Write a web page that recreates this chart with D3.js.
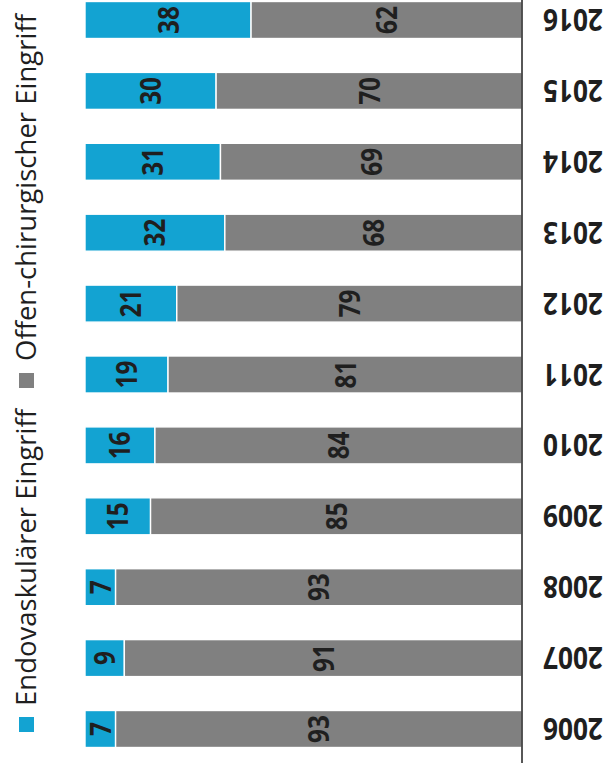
<!DOCTYPE html>
<html>
<head>
<meta charset="utf-8">
<script src="https://cdn.jsdelivr.net/npm/d3@7"></script>
<style>
  html, body { margin: 0; padding: 0; background: #fff; }
  svg { display: block; }
  text { font-family: "Open Sans", "Noto Sans", sans-serif; fill: #1f1f1f; }
</style>
</head>
<body>
<svg id="chart" width="609" height="765"></svg>
<script>
// Share of procedures per year (percent)
const years = ["2006","2007","2008","2009","2010","2011","2012","2013","2014","2015","2016"];
const endovascular = [7, 9, 7, 15, 16, 19, 21, 32, 31, 30, 38];
const openSurgery  = [93, 91, 93, 85, 84, 81, 79, 68, 69, 70, 62];
const seriesNames = ["Endovaskulärer Eingriff", "Offen-chirurgischer Eingriff"];
const seriesColors = ["#13a3d2", "#808080"];

const svg = d3.select("#chart");

// value axis runs left→right, year bands top→bottom (newest first)
const x = d3.scaleLinear().domain([0, 100]).range([85, 522]);
const y = d3.scaleBand()
  .domain(years.slice().reverse())
  .range([-15.45, 764.45])
  .paddingInner(0.478)
  .paddingOuter(0.239);

const rows = years.map((yr, i) => ({ year: yr, values: [endovascular[i], openSurgery[i]] }));
const stacked = d3.stack().keys([0, 1]).value((d, k) => d.values[k])(rows);

const layers = svg.append("g").selectAll("g")
  .data(stacked)
  .join("g")
  .attr("fill", (d, i) => seriesColors[i]);

layers.selectAll("rect")
  .data(d => d)
  .join("rect")
  .attr("x", d => x(d[0]))
  .attr("width", d => x(d[1]) - x(d[0]))
  .attr("y", d => y(d.data.year))
  .attr("height", y.bandwidth())
  .attr("stroke", "#fff")
  .attr("stroke-width", 1.4);

// segment values, rotated and slightly condensed
layers.selectAll("text")
  .data(d => d)
  .join("text")
  .attr("transform", d => {
    const cx = (x(d[0]) + x(d[1])) / 2 + 10.5;
    const cy = y(d.data.year) + y.bandwidth() / 2;
    return `translate(${cx},${cy}) rotate(-90) scale(0.84,1)`;
  })
  .attr("text-anchor", "middle")
  .attr("font-size", 29)
  .attr("font-weight", 700)
  .text(d => d[1] - d[0]);

// category axis line
svg.append("line")
  .attr("x1", 522).attr("x2", 522)
  .attr("y1", 0).attr("y2", 763)
  .attr("stroke", "#1f1f1f")
  .attr("stroke-width", 1.5);

// year labels, turned upside down
svg.append("g").selectAll("text")
  .data(years)
  .join("text")
  .attr("transform", d => `translate(573,${y(d) + y.bandwidth() / 2 - 11}) rotate(180) scale(0.85,1)`)
  .attr("text-anchor", "middle")
  .attr("font-size", 31)
  .attr("font-weight", 700)
  .text(d => d);

// legend, reading bottom to top
const legendItems = [
  { name: seriesNames[0], color: seriesColors[0], sq: 717, ty: 706 },
  { name: seriesNames[1], color: seriesColors[1], sq: 373, ty: 361 }
];
const lg = svg.append("g").selectAll("g").data(legendItems).join("g");
lg.append("rect")
  .attr("x", 19).attr("y", d => d.sq)
  .attr("width", 15).attr("height", 15)
  .attr("fill", d => d.color);
lg.append("text")
  .attr("transform", d => `translate(36,${d.ty}) rotate(-90)`)
  .attr("font-size", 27.5)
  .attr("fill", "#262626")
  .text(d => d.name);
</script>
</body>
</html>
